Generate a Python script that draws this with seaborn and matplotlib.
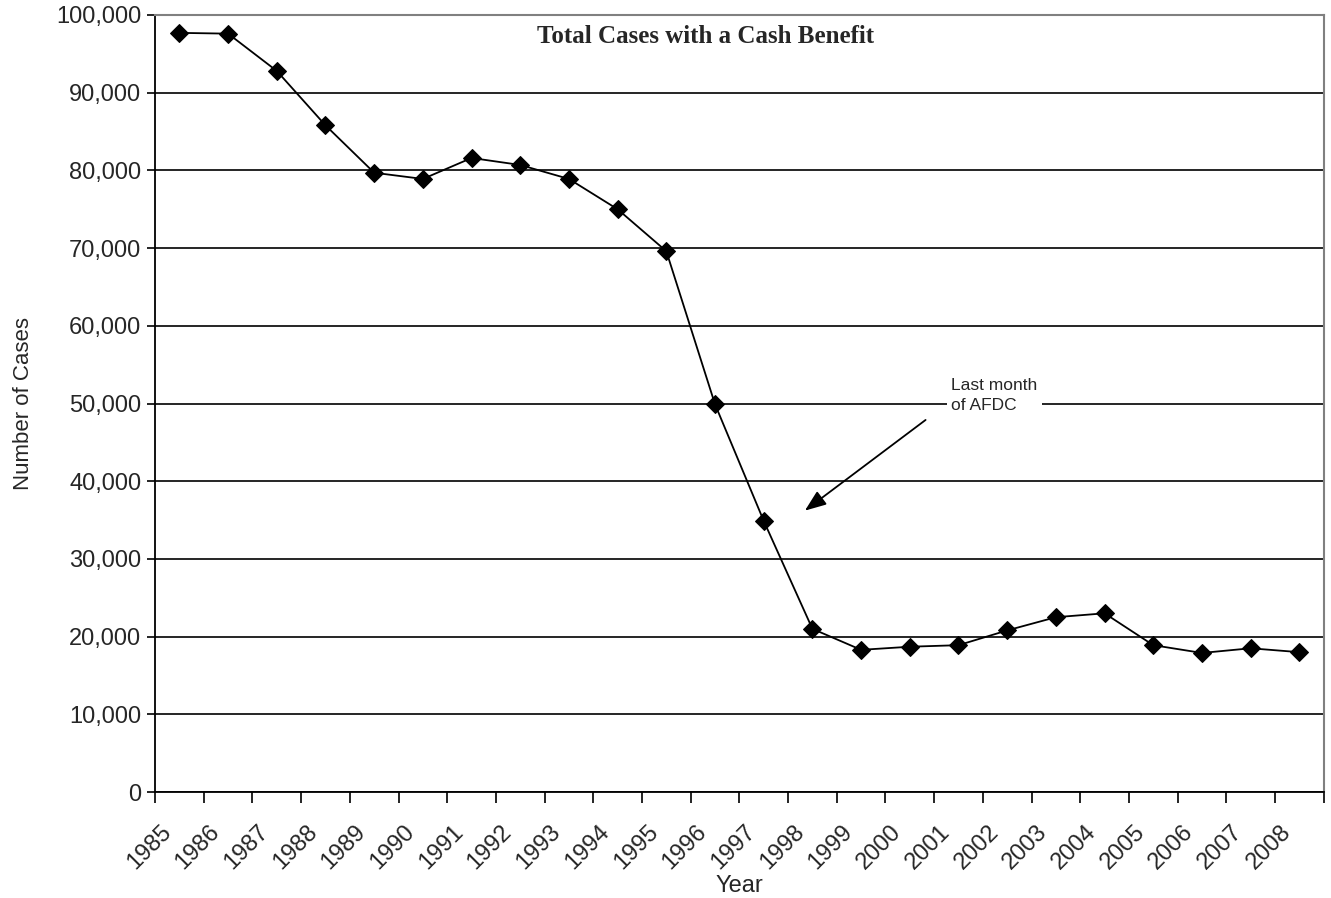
import numpy as np
import pandas as pd
import matplotlib.pyplot as plt
import seaborn as sns

years = list(range(1985, 2009))
cases = [97700, 97600, 92800, 85800, 79700, 78900, 81600, 80700, 78900, 75000,
         69600, 49900, 34900, 21000, 18300, 18700, 18900, 20800, 22500, 23000,
         18900, 17900, 18500, 18000]

df = pd.DataFrame({'Year': years, 'Cases': cases})

sns.set_style('white')
plt.rcParams['font.family'] = ['Liberation Sans', 'DejaVu Sans']

fig = plt.figure(figsize=(13.31, 8.98), dpi=100)
ax = fig.add_axes([0.1165, 0.118, 0.878, 0.8653])

sns.lineplot(data=df, x='Year', y='Cases', color='black', linewidth=1.3,
             marker='D', markersize=9, markeredgecolor='black', ax=ax)

ax.set_xlim(years[0] - 0.5, years[-1] + 0.5)
ax.set_ylim(0, 100000)
ax.set_yticks(np.arange(0, 100001, 10000))
ax.set_yticklabels([f'{v:,}' for v in range(0, 100001, 10000)], fontsize=17)

# boundaries get the tick marks, labels sit just left of each centre
ax.set_xticks(np.arange(years[0] - 0.5, years[-1] + 1, 1))
ax.set_xticklabels([])
ax.set_xticks(np.array(years) - 0.4, minor=True)
ax.set_xticklabels([str(y) for y in years], minor=True, rotation=45,
                   ha='right', rotation_mode='anchor', fontsize=17)
ax.tick_params(axis='x', which='major', direction='out', length=8, width=1.2, color='black', bottom=True)
ax.tick_params(axis='x', which='minor', length=0, pad=21)
ax.tick_params(axis='y', direction='out', length=6, width=1.2, color='black', left=True, pad=4)

ax.grid(axis='y', color='black', linewidth=1.2)
ax.set_axisbelow(True)

for s in ['left', 'bottom']:
    ax.spines[s].set_color('black')
    ax.spines[s].set_linewidth(1.3)
for s in ['top', 'right']:
    ax.spines[s].set_color('#808080')
    ax.spines[s].set_linewidth(1.5)

ax.set_xlabel('Year', fontsize=17, labelpad=1)
ax.set_ylabel('Number of Cases', fontsize=16, labelpad=16)

ax.text(0.471, 0.972, 'Total Cases with a Cash Benefit', transform=ax.transAxes,
        ha='center', va='center', fontsize=18, fontweight='bold',
        family=['Liberation Serif', 'DejaVu Serif'])

ax.text(2000.85, 51000, 'Last month\nof AFDC', ha='left', va='center', fontsize=12.5,
        linespacing=1.45,
        bbox=dict(facecolor='white', edgecolor='none', pad=3))
ax.annotate('', xy=(1997.8, 36000), xytext=(2000.37, 48100),
            arrowprops=dict(arrowstyle='-|>,head_length=1.3,head_width=0.5',
                            color='black', lw=1.3))

fig.savefig('out.png', dpi=100)
